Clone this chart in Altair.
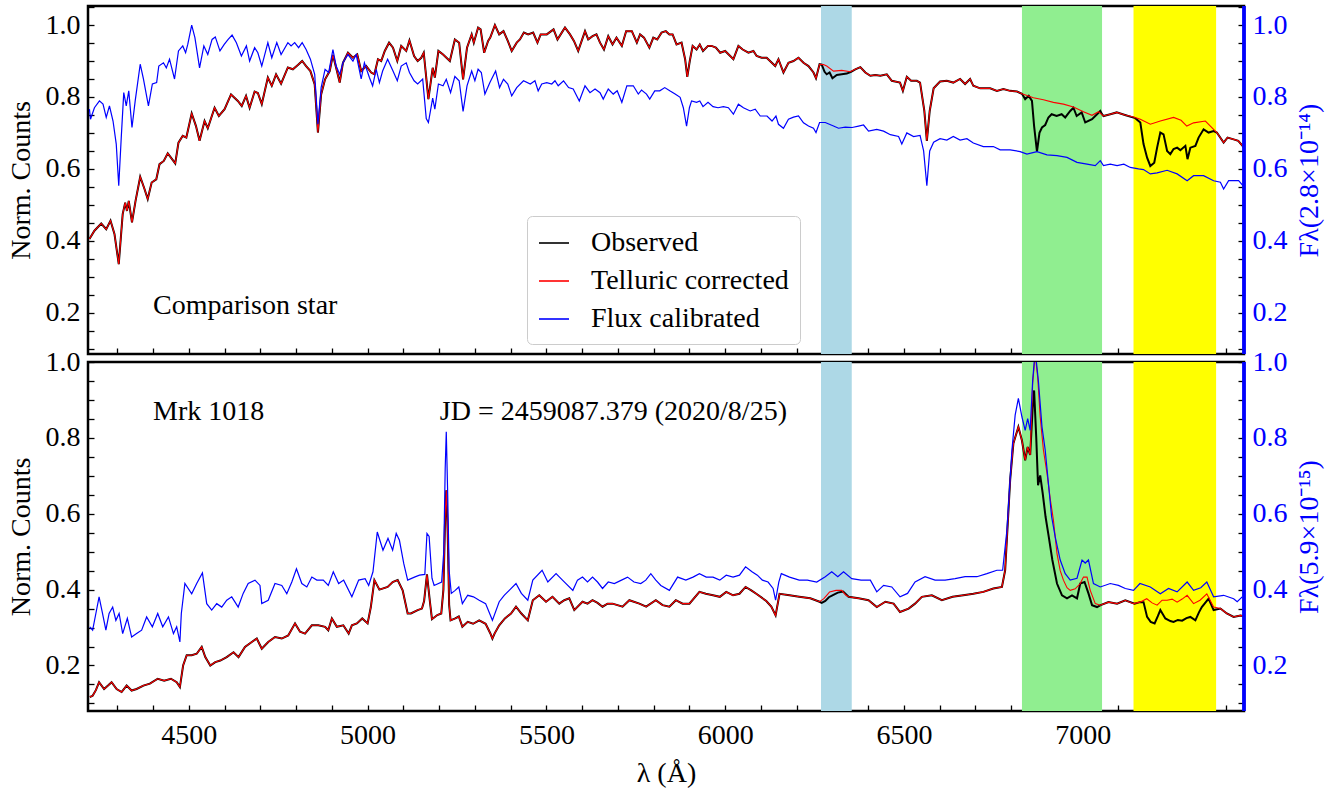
import altair as alt
import pandas as pd

FONT = "Liberation Serif"
FS = 28

X_MIN, X_MAX = 4218, 7451
TOP_YMIN, TOP_YMAX = 0.085, 1.053
BOT_YMIN, BOT_YMAX = 0.08, 1.0

SERIES = ["Observed", "Telluric corrected", "Flux calibrated"]
SERIES_COLORS = ["black", "red", "blue"]

BAND_LO = [6268, 6830, 7142]
BAND_HI = [6354, 7054, 7373]
BAND_NAME = ["A", "B", "C"]
BAND_COLORS = ["#add8e6", "#90ee90", "#ffff00"]

X_TICKS = list(range(4300, 7500, 100))
TOP_Y_TICKS = [0.1, 0.15, 0.2, 0.25, 0.3, 0.35, 0.4, 0.45, 0.5, 0.55, 0.6, 0.65, 0.7, 0.75,
               0.8, 0.85, 0.9, 0.95, 1.0, 1.05]
BOT_Y_TICKS = [0.1, 0.15, 0.2, 0.25, 0.3, 0.35, 0.4, 0.45, 0.5, 0.55, 0.6, 0.65, 0.7, 0.75,
               0.8, 0.85, 0.9, 0.95, 1.0]

# ---------------- top panel: comparison star ----------------
TOP_TELL_LAM = [4222, 4236, 4255, 4269, 4281, 4292, 4304, 4315, 4322, 4327, 4332, 4341, 4351, 4364, 4376,
                4385, 4396, 4409, 4418, 4430, 4441, 4450, 4462, 4471, 4483, 4493, 4508, 4520, 4530, 4544,
                4553, 4572, 4584, 4600, 4618, 4637, 4648, 4660, 4670, 4684, 4693, 4704, 4721, 4732, 4744,
                4758, 4777, 4791, 4805, 4817, 4828, 4840, 4852, 4861, 4870, 4881, 4894, 4903, 4912, 4922,
                4931, 4945, 4959, 4971, 4982, 4996, 5010, 5019, 5029, 5038, 5048, 5060, 5071, 5083, 5094,
                5108, 5117, 5130, 5140, 5150, 5157, 5170, 5182, 5188, 5198, 5211, 5230, 5244, 5256, 5267,
                5278, 5291, 5297, 5309, 5316, 5326, 5337, 5343, 5356, 5368, 5380, 5392, 5403, 5417, 5426,
                5437, 5449, 5463, 5475, 5484, 5501, 5520, 5531, 5543, 5552, 5566, 5577, 5589, 5608, 5617,
                5629, 5640, 5650, 5661, 5673, 5685, 5696, 5711, 5723, 5739, 5753, 5762, 5773, 5788, 5799,
                5810, 5822, 5834, 5844, 5853, 5864, 5878, 5888, 5894, 5901, 5909, 5920, 5929, 5938, 5952,
                5962, 5974, 5986, 6000, 6023, 6037, 6049, 6065, 6079, 6088, 6102, 6116, 6140, 6149, 6163,
                6177, 6191, 6205, 6219, 6233, 6247, 6254, 6264, 6275, 6284, 6303, 6326, 6350, 6364, 6378,
                6392, 6406, 6420, 6434, 6452, 6466, 6489, 6497, 6508, 6520, 6536, 6545, 6557, 6564, 6572,
                6583, 6601, 6620, 6638, 6657, 6671, 6685, 6694, 6713, 6741, 6760, 6778, 6797, 6816, 6830,
                6862, 6890, 6918, 6946, 6974, 7002, 7026, 7044, 7058, 7077, 7095, 7118, 7142, 7161, 7189,
                7217, 7254, 7275, 7291, 7310, 7343, 7366, 7375, 7394, 7405, 7422, 7435, 7451]
TOP_TELL_VAL = [0.405, 0.428, 0.448, 0.432, 0.456, 0.419, 0.335, 0.474, 0.506, 0.483, 0.511, 0.451, 0.511, 0.578, 0.544,
                0.516, 0.562, 0.571, 0.613, 0.622, 0.643, 0.631, 0.615, 0.673, 0.692, 0.687, 0.754, 0.719, 0.678, 0.733,
                0.713, 0.770, 0.747, 0.766, 0.807, 0.789, 0.775, 0.803, 0.770, 0.815, 0.811, 0.780, 0.854, 0.831, 0.863,
                0.837, 0.882, 0.877, 0.889, 0.900, 0.886, 0.872, 0.835, 0.701, 0.807, 0.849, 0.872, 0.917, 0.881, 0.840,
                0.895, 0.923, 0.909, 0.918, 0.872, 0.886, 0.868, 0.863, 0.905, 0.900, 0.928, 0.951, 0.937, 0.900, 0.942,
                0.928, 0.957, 0.914, 0.900, 0.909, 0.923, 0.794, 0.881, 0.854, 0.928, 0.918, 0.900, 0.960, 0.951, 0.849,
                0.937, 0.974, 0.951, 0.993, 0.988, 0.923, 0.956, 0.965, 1.000, 0.974, 0.983, 0.956, 0.928, 0.951, 0.960,
                0.979, 0.974, 0.979, 0.951, 0.974, 0.974, 0.988, 0.960, 0.979, 0.993, 0.974, 0.956, 0.928, 0.983, 0.960,
                0.969, 0.974, 0.951, 0.932, 0.969, 0.946, 0.965, 0.942, 0.983, 0.983, 0.951, 0.974, 0.965, 0.937, 0.965,
                0.960, 0.979, 0.983, 0.974, 0.974, 0.946, 0.951, 0.905, 0.856, 0.900, 0.942, 0.932, 0.946, 0.928, 0.942,
                0.942, 0.937, 0.923, 0.928, 0.905, 0.942, 0.932, 0.923, 0.928, 0.914, 0.909, 0.909, 0.886, 0.905, 0.868,
                0.895, 0.900, 0.909, 0.895, 0.886, 0.868, 0.852, 0.891, 0.890, 0.886, 0.872, 0.874, 0.870, 0.877, 0.883,
                0.868, 0.859, 0.861, 0.859, 0.863, 0.845, 0.840, 0.817, 0.856, 0.845, 0.845, 0.840, 0.761, 0.678, 0.761,
                0.824, 0.843, 0.845, 0.840, 0.850, 0.836, 0.850, 0.831, 0.824, 0.824, 0.817, 0.822, 0.817, 0.815, 0.809,
                0.798, 0.792, 0.785, 0.780, 0.772, 0.759, 0.749, 0.759, 0.747, 0.752, 0.757, 0.750, 0.744, 0.738, 0.724,
                0.733, 0.743, 0.735, 0.719, 0.728, 0.733, 0.710, 0.701, 0.673, 0.687, 0.682, 0.678, 0.659]

TOP_OBS_BAND_LAM = [6270, 6278, 6284, 6292, 6300, 6312, 6326, 6340, 6352,
                    6830, 6839, 6849, 6858, 6864, 6872, 6879, 6886, 6895, 6904, 6913, 6927, 6941, 6951, 6965,
                    6974, 6983, 6997, 7007, 7026, 7040, 7049, 7054,
                    7147, 7161, 7170, 7180, 7189, 7200, 7208, 7217, 7226, 7236, 7245, 7254, 7264, 7273, 7287,
                    7293, 7301, 7315, 7324, 7338, 7352, 7366]
TOP_OBS_BAND_VAL = [0.890, 0.870, 0.863, 0.868, 0.852, 0.861, 0.863, 0.865, 0.870,
                    0.809, 0.794, 0.803, 0.789, 0.719, 0.648, 0.700, 0.715, 0.722, 0.743, 0.752, 0.747, 0.752, 0.743, 0.761,
                    0.770, 0.747, 0.757, 0.729, 0.738, 0.752, 0.761, 0.752,
                    0.741, 0.729, 0.669, 0.631, 0.608, 0.617, 0.659, 0.701, 0.696, 0.650, 0.641, 0.655, 0.659, 0.652, 0.664,
                    0.627, 0.659, 0.664, 0.687, 0.710, 0.701, 0.705]

TOP_FLUX_LAM = [4222, 4225, 4236, 4250, 4260, 4269, 4278, 4288, 4297, 4304, 4311, 4318, 4325, 4332, 4341,
                4350, 4364, 4373, 4387, 4398, 4410, 4416, 4429, 4437, 4446, 4460, 4471, 4483, 4491, 4497,
                4508, 4517, 4530, 4542, 4553, 4565, 4574, 4587, 4599, 4610, 4621, 4633, 4647, 4661, 4670,
                4684, 4693, 4704, 4721, 4732, 4746, 4758, 4777, 4786, 4796, 4807, 4817, 4828, 4840, 4852,
                4861, 4870, 4881, 4891, 4903, 4912, 4922, 4931, 4945, 4959, 4968, 4982, 4991, 5005, 5014,
                5024, 5033, 5042, 5056, 5071, 5083, 5094, 5108, 5117, 5130, 5140, 5154, 5164, 5170, 5182,
                5188, 5198, 5211, 5220, 5232, 5244, 5256, 5267, 5278, 5291, 5300, 5309, 5318, 5328, 5342,
                5358, 5369, 5380, 5392, 5403, 5417, 5436, 5455, 5468, 5477, 5487, 5501, 5515, 5524, 5533,
                5548, 5562, 5575, 5592, 5608, 5622, 5636, 5650, 5659, 5673, 5687, 5698, 5711, 5725, 5743,
                5757, 5766, 5780, 5789, 5803, 5817, 5831, 5845, 5860, 5874, 5883, 5892, 5900, 5906, 5920,
                5929, 5938, 5952, 5966, 5980, 5995, 6009, 6023, 6037, 6051, 6070, 6084, 6098, 6117, 6131,
                6142, 6149, 6163, 6177, 6191, 6205, 6219, 6233, 6247, 6254, 6264, 6280, 6303, 6317, 6336,
                6355, 6373, 6387, 6401, 6424, 6443, 6462, 6485, 6494, 6508, 6527, 6545, 6555, 6564, 6572,
                6583, 6601, 6620, 6638, 6657, 6676, 6694, 6722, 6750, 6769, 6797, 6825, 6844, 6872, 6900,
                6928, 6956, 6984, 7012, 7035, 7049, 7058, 7077, 7096, 7115, 7133, 7156, 7170, 7189, 7208,
                7236, 7264, 7292, 7310, 7338, 7366, 7385, 7394, 7408, 7436, 7451]
TOP_FLUX_VAL = [0.766, 0.738, 0.770, 0.789, 0.780, 0.743, 0.775, 0.733, 0.669, 0.553, 0.687, 0.812, 0.775, 0.817, 0.715,
                0.789, 0.891, 0.850, 0.775, 0.836, 0.840, 0.886, 0.895, 0.881, 0.905, 0.850, 0.928, 0.942, 0.923, 0.946,
                1.000, 0.965, 0.881, 0.942, 0.918, 0.960, 0.967, 0.928, 0.946, 0.960, 0.972, 0.951, 0.914, 0.942, 0.900,
                0.937, 0.923, 0.886, 0.951, 0.909, 0.951, 0.918, 0.951, 0.942, 0.951, 0.937, 0.951, 0.932, 0.905, 0.863,
                0.724, 0.826, 0.877, 0.868, 0.932, 0.886, 0.863, 0.895, 0.918, 0.900, 0.918, 0.850, 0.895, 0.854, 0.831,
                0.877, 0.840, 0.872, 0.905, 0.872, 0.845, 0.886, 0.895, 0.868, 0.845, 0.836, 0.850, 0.740, 0.729, 0.797,
                0.766, 0.836, 0.831, 0.849, 0.812, 0.857, 0.845, 0.760, 0.831, 0.872, 0.845, 0.877, 0.868, 0.808, 0.840,
                0.872, 0.826, 0.849, 0.836, 0.803, 0.826, 0.845, 0.836, 0.845, 0.817, 0.836, 0.840, 0.836, 0.845, 0.831,
                0.845, 0.826, 0.822, 0.789, 0.831, 0.812, 0.822, 0.812, 0.794, 0.822, 0.808, 0.817, 0.785, 0.831, 0.831,
                0.808, 0.819, 0.808, 0.794, 0.817, 0.817, 0.826, 0.817, 0.808, 0.799, 0.770, 0.719, 0.770, 0.789, 0.785,
                0.789, 0.773, 0.785, 0.773, 0.770, 0.773, 0.770, 0.752, 0.780, 0.770, 0.761, 0.766, 0.747, 0.747, 0.733,
                0.747, 0.724, 0.713, 0.738, 0.744, 0.747, 0.728, 0.719, 0.713, 0.701, 0.729, 0.729, 0.719, 0.713, 0.716,
                0.715, 0.719, 0.722, 0.705, 0.710, 0.705, 0.695, 0.690, 0.669, 0.700, 0.690, 0.693, 0.650, 0.553, 0.650,
                0.674, 0.684, 0.680, 0.690, 0.680, 0.684, 0.672, 0.662, 0.662, 0.653, 0.653, 0.648, 0.641, 0.648, 0.639,
                0.637, 0.632, 0.618, 0.613, 0.609, 0.623, 0.609, 0.613, 0.609, 0.613, 0.604, 0.600, 0.598, 0.586, 0.589,
                0.596, 0.586, 0.567, 0.581, 0.581, 0.567, 0.563, 0.544, 0.567, 0.567, 0.550]

# ---------------- bottom panel: Mrk 1018 ----------------
BOT_TELL_LAM = [4223, 4231, 4240, 4249, 4263, 4274, 4284, 4298, 4312, 4326, 4340, 4354, 4373, 4391, 4413,
                4431, 4450, 4466, 4475, 4484, 4494, 4508, 4522, 4536, 4546, 4560, 4574, 4588, 4606, 4625,
                4639, 4657, 4676, 4690, 4704, 4722, 4741, 4760, 4778, 4797, 4811, 4825, 4844, 4862, 4881,
                4890, 4900, 4914, 4932, 4947, 4956, 4970, 4985, 5000, 5009, 5019, 5033, 5056, 5070, 5084,
                5098, 5112, 5121, 5140, 5152, 5158, 5166, 5174, 5180, 5195, 5206, 5212, 5217, 5220, 5224,
                5228, 5232, 5245, 5255, 5265, 5280, 5295, 5312, 5330, 5343, 5349, 5355, 5368, 5384, 5401,
                5415, 5430, 5448, 5462, 5480, 5499, 5517, 5536, 5550, 5564, 5578, 5601, 5615, 5629, 5643,
                5657, 5671, 5685, 5713, 5732, 5760, 5779, 5806, 5825, 5844, 5862, 5881, 5900, 5928, 5946,
                5966, 5985, 6003, 6022, 6040, 6057, 6073, 6087, 6115, 6129, 6141, 6152, 6180, 6207, 6238,
                6264, 6276, 6284, 6292, 6310, 6326, 6338, 6345, 6373, 6401, 6424, 6448, 6471, 6489, 6513,
                6531, 6550, 6578, 6606, 6636, 6666, 6694, 6722, 6750, 6774, 6783, 6797, 6806, 6820, 6830,
                6839, 6846, 6853, 6860, 6867, 6874, 6881, 6890, 6900, 6909, 6918, 6928, 6937, 6946, 6956,
                6965, 6979, 6993, 7002, 7012, 7021, 7035, 7049, 7072, 7096, 7119, 7142, 7160, 7179, 7194,
                7208, 7222, 7236, 7250, 7264, 7278, 7292, 7310, 7328, 7347, 7366, 7385, 7403, 7422, 7441,
                7451]
BOT_TELL_VAL = [0.117, 0.120, 0.135, 0.156, 0.138, 0.147, 0.156, 0.138, 0.130, 0.147, 0.134, 0.138, 0.147, 0.152, 0.165,
                0.160, 0.165, 0.156, 0.143, 0.200, 0.227, 0.227, 0.231, 0.249, 0.222, 0.200, 0.209, 0.213, 0.222, 0.235,
                0.222, 0.249, 0.262, 0.271, 0.244, 0.262, 0.275, 0.271, 0.279, 0.311, 0.289, 0.284, 0.306, 0.306, 0.302,
                0.293, 0.324, 0.302, 0.306, 0.284, 0.306, 0.311, 0.324, 0.311, 0.354, 0.425, 0.400, 0.407, 0.420, 0.425,
                0.398, 0.337, 0.337, 0.346, 0.350, 0.370, 0.440, 0.370, 0.322, 0.333, 0.337, 0.400, 0.600, 0.662, 0.550,
                0.360, 0.319, 0.324, 0.329, 0.302, 0.315, 0.310, 0.319, 0.310, 0.285, 0.271, 0.284, 0.306, 0.324, 0.337,
                0.355, 0.337, 0.319, 0.372, 0.385, 0.368, 0.381, 0.363, 0.372, 0.377, 0.346, 0.368, 0.363, 0.372, 0.365,
                0.355, 0.363, 0.363, 0.355, 0.372, 0.363, 0.355, 0.372, 0.359, 0.355, 0.372, 0.363, 0.363, 0.394, 0.389,
                0.385, 0.381, 0.394, 0.385, 0.389, 0.407, 0.398, 0.389, 0.370, 0.355, 0.332, 0.389, 0.385, 0.381, 0.377,
                0.368, 0.376, 0.385, 0.394, 0.398, 0.398, 0.385, 0.381, 0.377, 0.372, 0.354, 0.368, 0.363, 0.341, 0.350,
                0.363, 0.381, 0.385, 0.372, 0.381, 0.385, 0.389, 0.394, 0.403, 0.407, 0.451, 0.689, 0.785, 0.829, 0.793,
                0.741, 0.776, 0.755, 0.944, 1.020, 0.960, 0.856, 0.768, 0.707, 0.640, 0.583, 0.495, 0.450, 0.425, 0.405,
                0.398, 0.402, 0.416, 0.433, 0.433, 0.398, 0.363, 0.359, 0.367, 0.363, 0.372, 0.363, 0.367, 0.376, 0.365,
                0.359, 0.372, 0.372, 0.375, 0.367, 0.375, 0.385, 0.363, 0.372, 0.389, 0.354, 0.350, 0.337, 0.328, 0.332,
                0.330]

BOT_OBS_BAND_LAM = [6270, 6280, 6290, 6300, 6315, 6330, 6345,
                    6830, 6839, 6846, 6853, 6860, 6864, 6870, 6875, 6881, 6888, 6896, 6905, 6915, 6928, 6942, 6956,
                    6970, 6984, 6993, 7005, 7016, 7026, 7040, 7050,
                    7145, 7160, 7170, 7180, 7190, 7201, 7210, 7217, 7231, 7245, 7254, 7266, 7278, 7290, 7301, 7315,
                    7325, 7333, 7352, 7366]
BOT_OBS_BAND_VAL = [0.365, 0.370, 0.380, 0.385, 0.392, 0.395, 0.381,
                    0.793, 0.741, 0.776, 0.755, 0.880, 0.925, 0.800, 0.675, 0.701, 0.654, 0.592, 0.539, 0.478, 0.416, 0.385, 0.377,
                    0.385, 0.377, 0.416, 0.420, 0.390, 0.359, 0.354, 0.359,
                    0.363, 0.367, 0.367, 0.328, 0.315, 0.311, 0.330, 0.346, 0.324, 0.317, 0.315, 0.320, 0.318, 0.325, 0.328, 0.319,
                    0.340, 0.354, 0.376, 0.346]

BOT_FLUX_LAM = [4223, 4231, 4240, 4249, 4258, 4268, 4277, 4287, 4296, 4305, 4315, 4328, 4340, 4354, 4368,
                4382, 4398, 4413, 4427, 4443, 4457, 4466, 4475, 4479, 4489, 4508, 4522, 4538, 4550, 4564,
                4578, 4592, 4606, 4620, 4638, 4652, 4666, 4685, 4699, 4704, 4722, 4741, 4760, 4774, 4788,
                4801, 4816, 4830, 4844, 4858, 4876, 4890, 4904, 4919, 4933, 4956, 4975, 4993, 5003, 5015,
                5027, 5043, 5057, 5070, 5080, 5089, 5101, 5112, 5131, 5145, 5160, 5166, 5172, 5180, 5186,
                5207, 5213, 5217, 5220, 5224, 5228, 5234, 5245, 5255, 5265, 5280, 5296, 5312, 5330, 5349,
                5368, 5382, 5396, 5415, 5430, 5448, 5462, 5488, 5504, 5527, 5545, 5574, 5587, 5601, 5615,
                5629, 5643, 5657, 5673, 5690, 5710, 5727, 5745, 5764, 5778, 5792, 5806, 5820, 5844, 5867,
                5890, 5910, 5928, 5947, 5966, 5985, 6003, 6022, 6040, 6057, 6075, 6090, 6104, 6120, 6134,
                6141, 6150, 6157, 6180, 6207, 6230, 6256, 6280, 6298, 6315, 6331, 6354, 6380, 6406, 6424,
                6443, 6466, 6489, 6510, 6531, 6559, 6587, 6615, 6643, 6671, 6704, 6732, 6760, 6776, 6788,
                6802, 6811, 6820, 6830, 6839, 6846, 6853, 6860, 6867, 6876, 6886, 6895, 6904, 6913, 6923,
                6937, 6951, 6965, 6984, 6998, 7007, 7016, 7030, 7049, 7077, 7100, 7119, 7142, 7160, 7189,
                7217, 7240, 7264, 7292, 7310, 7330, 7347, 7366, 7394, 7422, 7432, 7446]
BOT_FLUX_VAL = [0.302, 0.293, 0.337, 0.381, 0.340, 0.293, 0.337, 0.354, 0.319, 0.337, 0.284, 0.324, 0.275, 0.284, 0.293,
                0.328, 0.302, 0.337, 0.302, 0.328, 0.284, 0.302, 0.262, 0.337, 0.416, 0.389, 0.416, 0.444, 0.363, 0.346,
                0.363, 0.354, 0.372, 0.381, 0.354, 0.390, 0.416, 0.425, 0.411, 0.363, 0.372, 0.416, 0.411, 0.389, 0.420,
                0.455, 0.416, 0.407, 0.433, 0.425, 0.425, 0.411, 0.447, 0.416, 0.425, 0.381, 0.425, 0.429, 0.411, 0.447,
                0.552, 0.504, 0.535, 0.504, 0.548, 0.530, 0.469, 0.425, 0.433, 0.438, 0.440, 0.548, 0.540, 0.430, 0.411,
                0.420, 0.500, 0.720, 0.816, 0.650, 0.450, 0.390, 0.398, 0.407, 0.363, 0.385, 0.381, 0.372, 0.363, 0.319,
                0.368, 0.385, 0.398, 0.416, 0.390, 0.372, 0.425, 0.451, 0.420, 0.442, 0.425, 0.398, 0.425, 0.433, 0.420,
                0.433, 0.420, 0.403, 0.420, 0.416, 0.425, 0.433, 0.420, 0.416, 0.425, 0.442, 0.425, 0.411, 0.398, 0.433,
                0.425, 0.433, 0.442, 0.433, 0.433, 0.425, 0.438, 0.433, 0.438, 0.460, 0.447, 0.438, 0.425, 0.420, 0.403,
                0.372, 0.420, 0.442, 0.433, 0.425, 0.425, 0.420, 0.434, 0.447, 0.434, 0.447, 0.429, 0.425, 0.425, 0.394,
                0.411, 0.407, 0.381, 0.390, 0.420, 0.434, 0.425, 0.425, 0.429, 0.434, 0.434, 0.442, 0.451, 0.451, 0.557,
                0.768, 0.860, 0.904, 0.855, 0.820, 0.851, 0.820, 0.952, 1.030, 0.950, 0.829, 0.768, 0.680, 0.592, 0.539,
                0.478, 0.442, 0.425, 0.430, 0.478, 0.470, 0.478, 0.416, 0.407, 0.416, 0.411, 0.403, 0.398, 0.416, 0.407,
                0.389, 0.403, 0.394, 0.420, 0.398, 0.405, 0.420, 0.381, 0.385, 0.376, 0.368, 0.381]

TOP_TEXT = ["Comparison star"]
TOP_TEXT_LAM = [4400]
TOP_TEXT_VAL = [0.197]
BOT_TEXT = ["Mrk 1018", "JD = 2459087.379 (2020/8/25)"]
BOT_TEXT_LAM = [4400, 5202]
BOT_TEXT_VAL = [0.848, 0.848]


def in_band(lam):
    return any(lo <= lam <= hi for lo, hi in zip(BAND_LO, BAND_HI))


def series_df(lam, val, name):
    return pd.DataFrame({"lam": lam, "val": val, "series": name})


def observed_df(tell_lam, tell_val, band_lam, band_val):
    pts = [(l, v) for l, v in zip(tell_lam, tell_val) if not in_band(l)]
    pts += list(zip(band_lam, band_val))
    pts.sort()
    return series_df([p[0] for p in pts], [p[1] for p in pts], "Observed")


bands_df = pd.DataFrame({"lo": BAND_LO, "hi": BAND_HI, "band": BAND_NAME})

PLOT_W = 1156

X_SCALE = alt.Scale(domain=[X_MIN, X_MAX], nice=False, zero=False)
COLOR_SCALE = alt.Scale(domain=SERIES, range=SERIES_COLORS)

LEGEND = alt.Legend(title=None, orient="none", legendX=439, legendY=210,
                    labelFont=FONT, labelFontSize=FS, labelColor="black", labelLimit=500,
                    symbolType="stroke", symbolStrokeWidth=1.6, symbolSize=900,
                    labelOffset=21, rowPadding=8, padding=11,
                    strokeColor="#cccccc", fillColor="white", cornerRadius=5)

AX_COMMON = dict(domain=False, grid=False, tickSize=6, offset=-6, tickColor="black", tickWidth=1.3,
                 labelFont=FONT, labelFontSize=FS, titleFont=FONT, titleFontSize=FS,
                 titleFontWeight="normal")


def x_axis(with_labels):
    if with_labels:
        return alt.Axis(values=X_TICKS, labelExpr="datum.value % 500 === 0 ? format(datum.value, 'd') : ''",
                        labelColor="black", labelPadding=10, title="λ (Å)", titlePadding=10,
                        titleColor="black", **AX_COMMON)
    return alt.Axis(values=X_TICKS, labels=False, title=None, **AX_COMMON)


def y_axis_left(ticks):
    return alt.Axis(orient="left", values=ticks,
                    labelExpr="round(datum.value * 20) % 4 === 0 ? format(datum.value, '.1f') : ''",
                    labelColor="black", labelPadding=8, title="Norm. Counts", titlePadding=10,
                    titleColor="black", **AX_COMMON)


def y_axis_right(ticks, title):
    return alt.Axis(orient="right", values=ticks,
                    labelExpr="round(datum.value * 20) % 4 === 0 ? format(datum.value, '.1f') : ''",
                    labelColor="blue", labelPadding=8, title=title, titlePadding=8,
                    titleColor="blue", titleAngle=270, titleBaseline="top", **AX_COMMON)


def panel(tell, obs, flux, ymin, ymax, yticks, right_title, texts, with_x_labels, legend, height):
    xa = x_axis(with_x_labels)
    ys = alt.Scale(domain=[ymin, ymax], nice=False, zero=False)
    x_enc = alt.X("lam:Q", scale=X_SCALE, axis=xa)

    bands = alt.Chart(bands_df).mark_rect(opacity=1).encode(
        x=alt.X("lo:Q", scale=X_SCALE, axis=xa),
        x2="hi:Q",
        fill=alt.Fill("band:N", scale=alt.Scale(domain=BAND_NAME, range=BAND_COLORS), legend=None),
    )
    black = alt.Chart(obs).mark_line(strokeWidth=2.0, clip=True).encode(
        x=x_enc,
        y=alt.Y("val:Q", scale=ys, axis=y_axis_left(yticks)),
        color=alt.Color("series:N", scale=COLOR_SCALE, legend=legend),
    )
    red = alt.Chart(tell).mark_line(strokeWidth=1.1, clip=True).encode(
        x=x_enc,
        y=alt.Y("val:Q", scale=ys, axis=None),
        color=alt.Color("series:N", scale=COLOR_SCALE, legend=legend),
    )
    blue = alt.Chart(flux).mark_line(strokeWidth=1.2, clip=True).encode(
        x=x_enc,
        y=alt.Y("val:Q", scale=ys, axis=y_axis_right(yticks, right_title)),
        color=alt.Color("series:N", scale=COLOR_SCALE, legend=legend),
    )
    txt = alt.Chart(texts).mark_text(align="left", baseline="alphabetic", font=FONT,
                                      fontSize=FS, color="black").encode(
        x=x_enc,
        y=alt.Y("val:Q", scale=ys, axis=None),
        text="text:N",
    )
    spine = alt.Chart(bands_df).mark_rule(color="blue", strokeWidth=3).encode(
        x=alt.datum(X_MAX, type="quantitative", scale=X_SCALE, axis=xa)
    )
    return alt.layer(bands, black, red, blue, txt, spine).resolve_scale(y="independent").properties(
        width=PLOT_W, height=height)


top_tell = series_df(TOP_TELL_LAM, TOP_TELL_VAL, "Telluric corrected")
top_obs = observed_df(TOP_TELL_LAM, TOP_TELL_VAL, TOP_OBS_BAND_LAM, TOP_OBS_BAND_VAL)
top_flux = series_df(TOP_FLUX_LAM, TOP_FLUX_VAL, "Flux calibrated")
top_text = pd.DataFrame({"lam": TOP_TEXT_LAM, "val": TOP_TEXT_VAL, "text": TOP_TEXT})

bot_tell = series_df(BOT_TELL_LAM, BOT_TELL_VAL, "Telluric corrected")
bot_obs = observed_df(BOT_TELL_LAM, BOT_TELL_VAL, BOT_OBS_BAND_LAM, BOT_OBS_BAND_VAL)
bot_flux = series_df(BOT_FLUX_LAM, BOT_FLUX_VAL, "Flux calibrated")
bot_text = pd.DataFrame({"lam": BOT_TEXT_LAM, "val": BOT_TEXT_VAL, "text": BOT_TEXT})

top = panel(top_tell, top_obs, top_flux, TOP_YMIN, TOP_YMAX, TOP_Y_TICKS,
            "Fλ(2.8×10⁻¹⁴)", top_text, False, LEGEND, 348)
bottom = panel(bot_tell, bot_obs, bot_flux, BOT_YMIN, BOT_YMAX, BOT_Y_TICKS,
               "Fλ(5.9×10⁻¹⁵)", bot_text, True, None, 349)

chart = alt.vconcat(top, bottom, spacing=8, bounds="flush").resolve_legend(color="independent").properties(
    padding={"left": 5, "top": 3, "right": 5, "bottom": 5},
    background="white",
).configure_view(stroke="black", strokeWidth=2.5)

chart.save("out.html", embed_options={"renderer": "svg", "actions": False})
